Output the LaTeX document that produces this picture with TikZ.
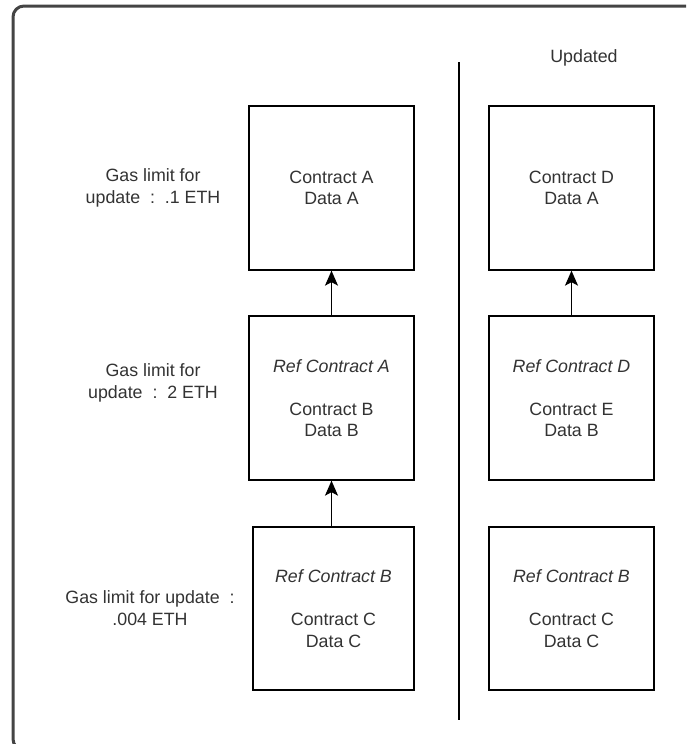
\documentclass[tikz,border=0pt]{standalone}
\usepackage{fontspec}
\setmainfont{Liberation Sans}
\usetikzlibrary{arrows.meta}
\definecolor{txtgray}{HTML}{333333}
\definecolor{framegray}{HTML}{444444}
\begin{document}
\begin{tikzpicture}[x=1pt,y=-1pt,
  every node/.style={font=\fontsize{17.8}{21.5}\selectfont, text=txtgray, align=center, inner sep=0pt},
  cbox/.style={draw=black, line width=1.3pt, minimum width=165pt, minimum height=164pt},
  link/.style={draw=black, line width=1.3pt, -{Stealth[length=15pt,width=13pt,inset=3.5pt]}},
  gaslabel/.style={}]
\useasboundingbox (0,0) rectangle (686,744);
\clip (0,0) rectangle (686,744);
\fill[white] (0,0) rectangle (686,744);
% outer frame, running past the page edge on the right and bottom
\draw[framegray, line width=3pt, rounded corners=11pt] (13,6) rectangle (704,750);

% current chain
\node[cbox] (A) at (331.5,188) {Contract A\\Data A};
\node[cbox] (B) at (331.5,398) {\textit{Ref Contract A}\\[21.5pt]Contract B\\Data B};
\node[cbox, minimum width=161pt, minimum height=163pt] (C) at (333.5,608.5) {\textit{Ref Contract B}\\[21.5pt]Contract C\\Data C};

% updated chain
\node[cbox] (D) at (571.5,188) {Contract D\\Data A};
\node[cbox] (E) at (571.5,398) {\textit{Ref Contract D}\\[21.5pt]Contract E\\Data B};
\node[cbox, minimum height=163pt] (F) at (571.5,608.5) {\textit{Ref Contract B}\\[21.5pt]Contract C\\Data C};

\draw[link] (B.north) -- (A.south);
\draw[link] (C.north -| B.south) -- (B.south);
\draw[link] (E.north) -- (D.south);

% divider between the two versions
\coordinate (divtop) at (459,62);
\coordinate (divbot) at (459,720);
\draw[black, line width=1.3pt] (divtop) -- (divbot);
\node (upd) at (584,58) {Updated};

% gas limit labels
\node[gaslabel] (g1) at (153,188) {Gas limit for\\update\ \ :\ \ .1 ETH};
\node[gaslabel] (g2) at (153,383) {Gas limit for\\update\ \ :\ \ 2 ETH};
\node[gaslabel] (g3) at (150,608) {Gas limit for update\ \ :\\.004 ETH};
\end{tikzpicture}
\end{document}
